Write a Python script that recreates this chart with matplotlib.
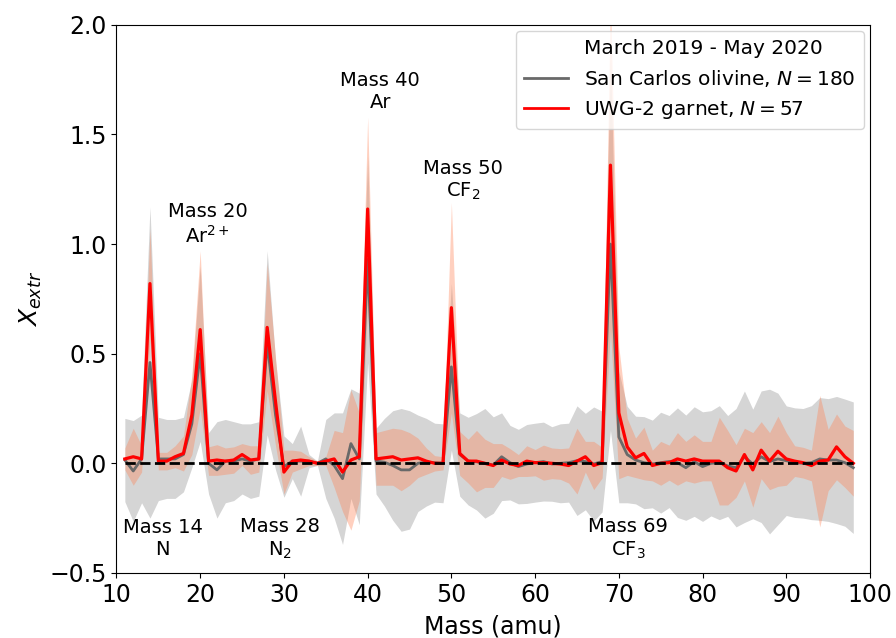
import matplotlib
matplotlib.use('Agg')
import matplotlib.pyplot as plt
from matplotlib.lines import Line2D
import numpy as np

mass = np.arange(11, 99)

# UWG-2 garnet: mean and 1-sigma spread
garnet_mean = [0.02, 0.03, 0.02, 0.82, 0.01, 0.01, 0.03, 0.045, 0.22, 0.61,
               0.01, 0.015, 0.01, 0.015, 0.04, 0.015, 0.02, 0.62, 0.28, -0.04,
               0.01, 0.015, 0.01, 0.0, 0.01, 0.02, -0.04, 0.015, 0.03, 1.16,
               0.02, 0.025, 0.03, 0.015, 0.02, 0.025, 0.01, 0.0, 0.0, 0.71,
               0.045, 0.01, 0.01, 0.0, -0.01, 0.015, -0.003, -0.01, 0.01, 0.003,
               0.003, 0.0, -0.003, -0.01, 0.01, 0.03, -0.01, 0.003, 1.36, 0.23,
               0.075, 0.025, 0.045, -0.01, 0.0, 0.003, 0.02, 0.01, 0.02, 0.01,
               0.01, 0.01, -0.02, -0.035, 0.04, -0.03, 0.06, 0.01, 0.055, 0.02,
               0.01, 0.003, -0.01, 0.01, 0.015, 0.075, 0.03, 0.0]
garnet_sd = [0.05, 0.13, 0.06, 0.25, 0.04, 0.04, 0.05, 0.08, 0.18, 0.36,
             0.065, 0.07, 0.06, 0.06, 0.05, 0.065, 0.06, 0.29, 0.2, 0.1,
             0.05, 0.04, 0.02, 0.01, 0.02, 0.13, 0.18, 0.32, 0.2, 0.42,
             0.12, 0.125, 0.13, 0.14, 0.12, 0.09, 0.06, 0.035, 0.03, 0.48,
             0.1, 0.1, 0.14, 0.11, 0.1, 0.075, 0.07, 0.05, 0.07, 0.06,
             0.08, 0.07, 0.07, 0.08, 0.15, 0.07, 0.11, 0.07, 0.75, 0.3,
             0.13, 0.09, 0.12, 0.07, 0.1, 0.08, 0.12, 0.09, 0.11, 0.09,
             0.09, 0.2, 0.17, 0.12, 0.12, 0.17, 0.13, 0.13, 0.16, 0.12,
             0.07, 0.07, 0.07, 0.3, 0.14, 0.15, 0.14, 0.15]

# San Carlos olivine: mean and 1-sigma spread
olivine_mean = [0.015, -0.035, 0.02, 0.46, 0.02, 0.02, 0.02, 0.04, 0.18, 0.5,
                0.0, -0.03, 0.01, 0.01, 0.02, 0.01, 0.02, 0.55, 0.22, -0.015,
                0.01, 0.01, 0.01, 0.0, 0.02, -0.01, -0.07, 0.09, 0.02, 0.93,
                0.01, 0.005, -0.01, -0.03, -0.03, 0.0, 0.005, 0.003, 0.0, 0.44,
                0.04, 0.01, 0.007, 0.0, -0.008, 0.03, 0.003, -0.015, -0.003, 0.003,
                0.008, -0.003, 0.0, 0.003, 0.012, 0.008, -0.003, 0.008, 1.0, 0.12,
                0.04, 0.015, 0.003, -0.003, 0.003, 0.008, 0.003, -0.02, 0.008, -0.015,
                0.0, 0.003, -0.012, -0.02, 0.03, -0.003, 0.03, 0.008, 0.02, 0.012,
                0.003, 0.0, 0.003, 0.02, 0.015, 0.015, 0.003, -0.02]
olivine_sd = [0.19, 0.23, 0.2, 0.71, 0.19, 0.18, 0.18, 0.17, 0.2, 0.4,
              0.14, 0.22, 0.19, 0.18, 0.16, 0.17, 0.17, 0.42, 0.25, 0.14,
              0.08, 0.16, 0.03, 0.01, 0.18, 0.24, 0.3, 0.25, 0.3, 0.47,
              0.15, 0.2, 0.25, 0.28, 0.27, 0.22, 0.2, 0.18, 0.18, 0.38,
              0.19, 0.2, 0.22, 0.25, 0.22, 0.2, 0.17, 0.17, 0.18, 0.18,
              0.18, 0.17, 0.18, 0.18, 0.25, 0.22, 0.26, 0.23, 0.85, 0.3,
              0.22, 0.2, 0.21, 0.2, 0.23, 0.21, 0.25, 0.24, 0.25, 0.25,
              0.24, 0.26, 0.23, 0.27, 0.3, 0.25, 0.3, 0.33, 0.3, 0.25,
              0.25, 0.25, 0.26, 0.28, 0.28, 0.29, 0.29, 0.3]

# peak labels: (x, y, text)
peak_labels = [(15.5, -0.345, 'Mass 14\nN'),
               (20.9, 1.09, 'Mass 20\nAr$^{2+}$'),
               (29.5, -0.345, 'Mass 28\nN$_2$'),
               (41.5, 1.695, 'Mass 40\nAr'),
               (51.4, 1.29, 'Mass 50\nCF$_2$'),
               (71.1, -0.345, 'Mass 69\nCF$_3$')]

gm = np.array(garnet_mean)
gs = np.array(garnet_sd)
om = np.array(olivine_mean)
osd = np.array(olivine_sd)

fig = plt.figure(figsize=(8.96, 6.38), dpi=100)
ax = fig.add_axes([0.130, 0.102, 0.841, 0.859])

ax.fill_between(mass, om - osd, om + osd, color='grey', alpha=0.33, lw=0)
ax.fill_between(mass, gm - gs, gm + gs, color='coral', alpha=0.36, lw=0)
ax.plot(mass, om, color='dimgray', lw=2)
ax.plot(mass, gm, color='red', lw=2.3)
ax.plot(mass, np.zeros(len(mass)), 'k--', lw=2)

for x, y, txt in peak_labels:
    ax.text(x, y, txt, ha='center', va='center', multialignment='center', fontsize=14)

ax.set_xlim(10, 100)
ax.set_ylim(-0.5, 2.0)
ax.set_xticks(np.arange(10, 101, 10))
ax.set_yticks([-0.5, 0.0, 0.5, 1.0, 1.5, 2.0])
ax.tick_params(labelsize=17)
ax.set_xlabel('Mass (amu)', fontsize=17, labelpad=6)
ax.set_ylabel('$X_{extr}$', fontsize=18)

handles = [Line2D([], [], color='none'),
           Line2D([], [], color='dimgray', lw=2),
           Line2D([], [], color='red', lw=2)]
labels = ['March 2019 - May 2020',
          'San Carlos olivine, $N = 180$',
          'UWG-2 garnet, $N = 57$']
ax.legend(handles, labels, loc='upper right', fontsize=14.5, handlelength=2.2,
          borderaxespad=0.3)

fig.savefig('out.png', dpi=100)
